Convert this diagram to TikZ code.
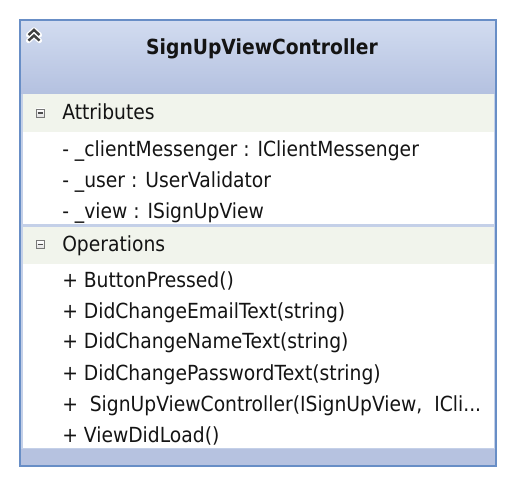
\documentclass[tikz,border=0pt]{standalone}
\usepackage{fontspec}
\setmainfont{DejaVu Sans}[FakeStretch=0.9]
\definecolor{border}{RGB}{104,142,198}
\definecolor{innerline}{RGB}{196,208,232}
\definecolor{headtop}{RGB}{210,220,240}
\definecolor{headbot}{RGB}{180,193,224}
\definecolor{band}{RGB}{241,244,236}
\definecolor{footband}{RGB}{182,194,224}
\definecolor{txt}{RGB}{20,20,20}
\definecolor{icongray}{RGB}{120,120,120}
\tikzset{
  member/.style={anchor=base west, inner sep=0pt, text=txt, font=\fontsize{15.6}{18}\selectfont},
  section/.style={member},
  titletext/.style={anchor=base, inner sep=0pt, text=txt, font=\fontsize{15.6}{18}\selectfont\bfseries},
  minusbox/.style={draw=icongray, fill=white, minimum width=6pt, minimum height=6pt, inner sep=0pt, line width=0.6pt, top color=white, bottom color=gray!25},
}
\begin{document}
\begin{tikzpicture}[x=0.75pt,y=-0.75pt]
\useasboundingbox (0,0) rectangle (515,485);
% background parts
\shade[top color=headtop, bottom color=headbot] (20,20) rectangle (496,94);
\fill[white] (20,94) rectangle (496,449);
\fill[band] (22,94) rectangle (494,132);
\fill[band] (22,227) rectangle (494,264);
\fill[footband] (20,449) rectangle (496,466);
% inner light lines
\draw[innerline, line width=1.5pt] (21.5,94) -- (21.5,449);
\draw[innerline, line width=1.5pt] (494.5,94) -- (494.5,449);
\draw[innerline, line width=1.8pt] (22,225.5) -- (494,225.5);
\draw[innerline, line width=1pt] (22,448.5) -- (494,448.5);
% outer border
\draw[border, line width=2pt] (20,20) rectangle (496,466);
% collapse chevrons
\coordinate (chev) at (34,34);
\foreach \dy in {-2.8,2.8}{
  \draw[white, line width=3.8pt, line cap=round, line join=round]
    ([shift={(-5.5,\dy+3.8)}]chev) -- ([shift={(0,\dy-1.3)}]chev) -- ([shift={(5.5,\dy+3.8)}]chev);
}
\foreach \dy in {-2.8,2.8}{
  \draw[black!75, line width=1.8pt, line join=miter]
    ([shift={(-5.5,\dy+3.8)}]chev) -- ([shift={(0,\dy-1.3)}]chev) -- ([shift={(5.5,\dy+3.8)}]chev);
}
% title
\node[titletext] (title) at (262,55) {SignUpViewController};
% attributes section
\node[minusbox] (attrbox) at (40.5,113) {};
\draw[black!70, line width=0.8pt] ([xshift=-2.2]attrbox.center) -- ([xshift=2.2]attrbox.center);
\node[section] (attr) at (62,120) {Attributes};
\node[member] (a1) at (62,157) {- \_clientMessenger : IClientMessenger};
\node[member] (a2) at (62,188) {- \_user : UserValidator};
\node[member] (a3) at (62,219) {- \_view : ISignUpView};
% operations section
\node[minusbox] (opbox) at (40.5,244.5) {};
\draw[black!70, line width=0.8pt] ([xshift=-2.2]opbox.center) -- ([xshift=2.2]opbox.center);
\node[section] (ops) at (62,252) {Operations};
\node[member] (o1) at (62,287) {+ ButtonPressed()};
\node[member] (o2) at (62,318) {+ DidChangeEmailText(string)};
\node[member] (o3) at (62,349) {+ DidChangeNameText(string)};
\node[member] (o4) at (62,380) {+ DidChangePasswordText(string)};
\node[member] (o5) at (62,411) {+\ \ SignUpViewController(ISignUpView,\ \ ICli...};
\node[member] (o6) at (62,442) {+ ViewDidLoad()};
\end{tikzpicture}
\end{document}
